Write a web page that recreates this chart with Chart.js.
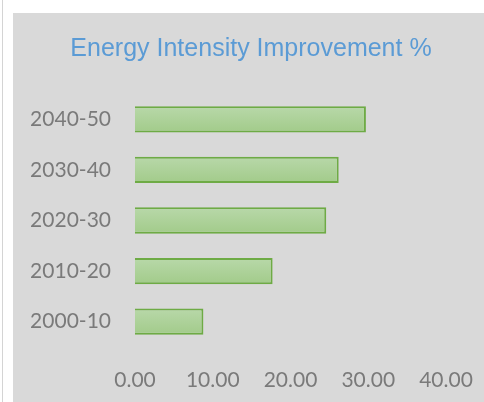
<!DOCTYPE html>
<html>
<head>
<meta charset="utf-8">
<script src="https://cdn.jsdelivr.net/npm/chart.js@4"></script>
<style>
    html, body { margin: 0; padding: 0; background: #fff; }
    body { width: 484px; height: 402px; position: relative; overflow: hidden; }
    #edge { position: absolute; left: 2px; top: 0; width: 1px; height: 402px; background: #d4d4d4; }
    #panel { position: absolute; left: 13px; top: 13px; width: 471px; height: 389px; background: #d9d9d9; overflow: hidden; }
</style>
</head>
<body>
<div id="edge"></div>
<div id="panel"><canvas id="chart" width="476" height="389"></canvas></div>
<script>
const periods = ["2000-10", "2010-20", "2020-30", "2030-40", "2040-50"];
const improvement = [8.8, 17.7, 24.6, 26.2, 29.7];
const xTicks = [0, 10, 20, 30, 40];

const labelFont = { family: "Lato", size: 21 };
const labelColor = "#7a7a7a";

// light-to-darker green, like the Excel bar fill
function barFill(ctx) {
    const y = ctx.chart.scales.y;
    if (!y || ctx.type !== "data") return "#abd292";
    const c = y.getPixelForValue(ctx.dataIndex);
    if (!isFinite(c)) return "#abd292";
    const g = ctx.chart.ctx.createLinearGradient(0, c - 13, 0, c + 13);
    g.addColorStop(0, "#b8d8a9");
    g.addColorStop(1, "#a2cb8a");
    return g;
}

new Chart(document.getElementById("chart"), {
    type: "bar",
    data: {
        labels: periods,
        datasets: [{
            label: "Energy Intensity Improvement %",
            data: improvement,
            backgroundColor: barFill,
            borderColor: "#6eab45",
            borderWidth: 2,
            categoryPercentage: 1,
            barPercentage: 0.52
        }]
    },
    options: {
        indexAxis: "y",
        responsive: false,
        animation: false,
        layout: { padding: { left: 0, right: 0, top: 0, bottom: 9 } },
        plugins: {
            legend: { display: false },
            tooltip: { enabled: false },
            title: {
                display: true,
                text: "Energy Intensity Improvement %",
                color: "#5b9bd5",
                font: { family: "Liberation Sans", size: 25, weight: "normal" },
                padding: { top: 21, bottom: 30 }
            }
        },
        scales: {
            x: {
                min: xTicks[0],
                max: xTicks[xTicks.length - 1],
                grid: { display: false, drawTicks: false },
                border: { display: false },
                afterBuildTicks: s => { s.ticks = xTicks.map(v => ({ value: v })); },
                afterFit: s => { s.height = 46; s.paddingRight = 43; s.paddingLeft = 0; },
                ticks: {
                    color: labelColor,
                    font: labelFont,
                    padding: 21,
                    callback: v => Number(v).toFixed(2)
                }
            },
            y: {
                reverse: true,
                grid: { display: false, drawTicks: false },
                border: { display: false },
                afterFit: s => { s.width = 122; },
                ticks: { color: labelColor, font: labelFont, padding: 24 }
            }
        }
    }
});
</script>
</body>
</html>
